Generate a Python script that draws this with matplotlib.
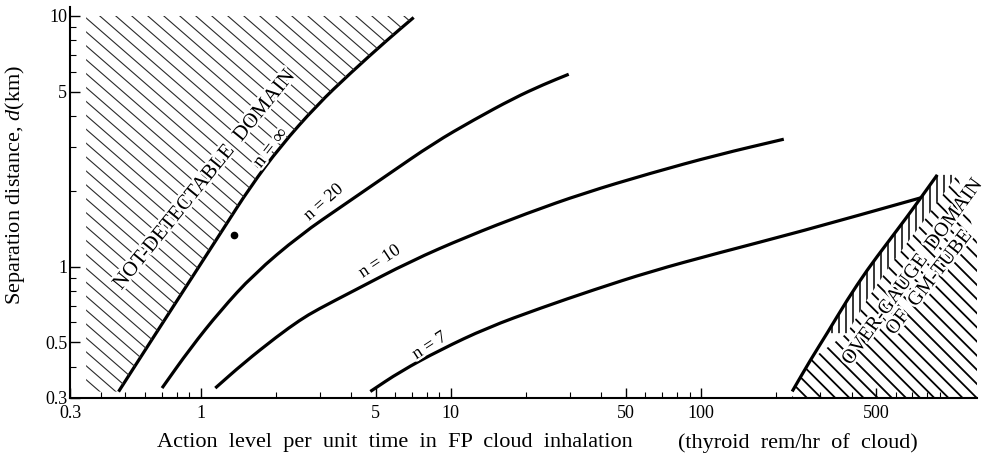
import numpy as np
import matplotlib
matplotlib.use("Agg")
import matplotlib.pyplot as plt
import matplotlib.patheffects as pe
from matplotlib.ticker import FixedLocator, FixedFormatter, LogLocator, NullFormatter
from matplotlib.patches import Polygon, PathPatch
from matplotlib.path import Path
from matplotlib.collections import LineCollection

plt.rcParams['font.family'] = ['Liberation Serif', 'DejaVu Serif']
plt.rcParams['mathtext.fontset'] = 'custom'
plt.rcParams['mathtext.rm'] = 'Liberation Serif'
plt.rcParams['mathtext.it'] = 'Liberation Serif:italic'

# Detection limit curves: action level (thyroid rem/hr) vs separation distance d (km)
ninf_x = [0.469, 0.590, 0.732, 0.936, 1.234, 1.578, 2.080, 2.916, 3.963, 5.56, 7.10]
ninf_d = [0.318, 0.4545, 0.6346, 0.9277, 1.423, 2.084, 3.020, 4.416, 5.916, 8.017, 9.863]

n20_x = [0.700, 0.908, 1.197, 1.627, 2.500, 3.726, 5.557, 8.535, 12.34, 17.83, 23.50, 29.60]
n20_d = [0.3286, 0.4735, 0.6679, 0.9335, 1.341, 1.763, 2.319, 3.111, 3.852, 4.699, 5.335, 5.858]

n10_x = [1.143, 1.483, 2.018, 2.500, 2.916, 4.086, 6.887, 11.61, 20.17, 33.98, 62.81, 116.1, 214.4]
n10_d = [0.3286, 0.4133, 0.5277, 0.615, 0.674, 0.8024, 1.052, 1.320, 1.636, 1.966, 2.362, 2.794, 3.227]

n7_x = [4.764, 6.281, 9.078, 13.96, 22.80, 37.26, 62.81, 116.1, 250.0, 755.0]
n7_d = [0.3185, 0.3827, 0.467, 0.5715, 0.6846, 0.810, 0.958, 1.133, 1.382, 1.883]

# Upper limit of the GM-tube range
gauge_x = [231.6, 274.2, 319.8, 384.5, 462.2, 555.6, 668.1, 755.1, 880.8]
gauge_d = [0.3185, 0.426, 0.544, 0.739, 0.973, 1.243, 1.586, 1.878, 2.326]

# Measured point
dot_x = [1.36]
dot_d = [1.34]

x_ticks = [0.3, 1, 5, 10, 50, 100, 500]
x_tick_labels = ['0.3', '1', '5', '10', '50', '100', '500']
y_ticks = [0.3, 0.5, 1, 5, 10]
y_tick_labels = ['0.3', '0.5', '1', '5', '10']

X_MIN, X_MAX = 0.3, 1270
Y_MIN, Y_MAX = 0.3, 10.86

W, H = 985, 462
fig = plt.figure(figsize=(W / 100, H / 100), dpi=100)
ax = fig.add_axes([70 / W, 1 - 398 / H, 907 / W, 391 / H])
ax.set_xscale('log')
ax.set_yscale('log')
ax.set_xlim(X_MIN, X_MAX)
ax.set_ylim(Y_MIN, Y_MAX)


def hatch(region, angle_deg, spacing_px, lw, color='black'):
    """Fill a patch with parallel lines drawn at a fixed screen angle."""
    bbox = ax.get_window_extent()
    w, h = bbox.width, bbox.height
    th = np.deg2rad(angle_deg)
    u = np.array([np.cos(th), np.sin(th)])
    nrm = np.array([-np.sin(th), np.cos(th)])
    diag = np.hypot(w, h)
    c = np.array([w / 2, h / 2])
    segs = []
    for k in np.arange(-diag, diag, spacing_px):
        p0 = c + k * nrm - diag * u
        p1 = c + k * nrm + diag * u
        segs.append([(p0[0] / w, p0[1] / h), (p1[0] / w, p1[1] / h)])
    lc = LineCollection(segs, colors=color, linewidths=lw,
                        transform=ax.transAxes)
    ax.add_collection(lc, autolim=False)
    lc.set_clip_path(region)


def region(xs, ds):
    p = Polygon(np.column_stack([xs, ds]), closed=True, fill=False,
                edgecolor='none')
    ax.add_patch(p)
    return p


def smooth_curve(xs, ds, lw=2.3):
    """Draw a curve through the points using quadratic Bezier segments
    (corner points act as control points, joins at log-space midpoints)."""
    pts = np.column_stack([xs, ds]).astype(float)
    verts = [pts[0], np.sqrt(pts[0] * pts[1])]
    codes = [Path.MOVETO, Path.LINETO]
    for i in range(1, len(pts) - 1):
        verts += [pts[i], np.sqrt(pts[i] * pts[i + 1])]
        codes += [Path.CURVE3, Path.CURVE3]
    verts.append(pts[-1])
    codes.append(Path.LINETO)
    patch = PathPatch(Path(verts, codes), fill=False, edgecolor='black',
                      lw=lw, capstyle='butt', joinstyle='round')
    ax.add_patch(patch)


# Not-detectable domain (left of n = infinity)
nd_left = 0.348
nd_top = 10.0
nd = region([nd_left] + ninf_x + [7.25, nd_left],
            [ninf_d[0]] + ninf_d + [nd_top, nd_top])
hatch(nd, -41, 10.5, 0.8, color='#2a2a2a')

# Over-gauge domain (right of the GM-tube limit): a band of vertical
# strokes along the limit, diagonal strokes beyond it
shift = 1.2
band_from = 0.45
gx_in = [g * shift if d >= band_from else g for g, d in zip(gauge_x, gauge_d)]
bx = [g for g, d in zip(gauge_x, gauge_d) if d >= band_from]
bd = [d for d in gauge_d if d >= band_from]
band = region(bx + [g * shift for g in bx][::-1], bd + bd[::-1])
hatch(band, 90, 7, 1.1)
og = region(gx_in + [X_MAX, X_MAX, gx_in[0]],
            gauge_d + [1.25, Y_MIN, Y_MIN])
hatch(og, -45, 10, 1.3)

for xs, ds in [(ninf_x, ninf_d), (n20_x, n20_d), (n10_x, n10_d),
               (n7_x, n7_d), (gauge_x, gauge_d)]:
    smooth_curve(xs, ds)

ax.plot(dot_x, dot_d, 'o', color='black', ms=4.5)

# Curve and domain labels
halo = [pe.withStroke(linewidth=3.5, foreground='white')]
lab = dict(ha='center', va='center', rotation_mode='anchor', color='black',
           path_effects=halo)
ax.text(1.04, 2.22, 'NOT-DETECTABLE  DOMAIN', rotation=51, fontsize=15, **lab)
ax.text(1.914, 2.99, r'n$\,=\,\infty$', rotation=52, fontsize=14, **lab)
ax.text(3.09, 1.807, 'n = 20', rotation=41.5, fontsize=13, **lab)
ax.text(5.18, 1.05, 'n = 10', rotation=33.5, fontsize=13, **lab)
ax.text(8.20, 0.485, 'n = 7', rotation=33, fontsize=13, **lab)
ax.text(702, 0.95, 'OVER-GAUGE  DOMAIN', rotation=54, fontsize=14.5,
        clip_on=False, **lab)
ax.text(820, 0.863, 'OF  GM-TUBE', rotation=52, fontsize=14.5,
        clip_on=False, **lab)

# Axes styling
for s in ['top', 'right']:
    ax.spines[s].set_visible(False)
for s in ['left', 'bottom']:
    ax.spines[s].set_linewidth(1.5)

ax.xaxis.set_major_locator(FixedLocator(x_ticks))
ax.xaxis.set_major_formatter(FixedFormatter(x_tick_labels))
ax.xaxis.set_minor_locator(LogLocator(base=10, subs=np.arange(2, 10), numticks=50))
ax.xaxis.set_minor_formatter(NullFormatter())
ax.yaxis.set_major_locator(FixedLocator(y_ticks))
ax.yaxis.set_major_formatter(FixedFormatter(y_tick_labels))
ax.yaxis.set_minor_locator(LogLocator(base=10, subs=np.arange(2, 10), numticks=50))
ax.yaxis.set_minor_formatter(NullFormatter())
ax.tick_params(which='major', direction='in', length=7, width=1.0,
               labelsize=13)
ax.tick_params(axis='x', which='major', pad=5)
ax.tick_params(axis='y', which='major', pad=2)
ax.tick_params(which='minor', direction='in', length=4, width=0.8)

fig.text(15 / W, 1 - 185 / H, r'Separation distance, $d$(km)',
         fontsize=16, rotation=90, ha='center', va='center')
fig.text(157 / W, 1 - 443 / H,
         'Action  level  per  unit  time  in  FP  cloud  inhalation',
         fontsize=16, ha='left', va='center')
fig.text(918 / W, 1 - 443 / H, '(thyroid  rem/hr  of  cloud)',
         fontsize=16, ha='right', va='center')

fig.savefig('out.png', dpi=100)
